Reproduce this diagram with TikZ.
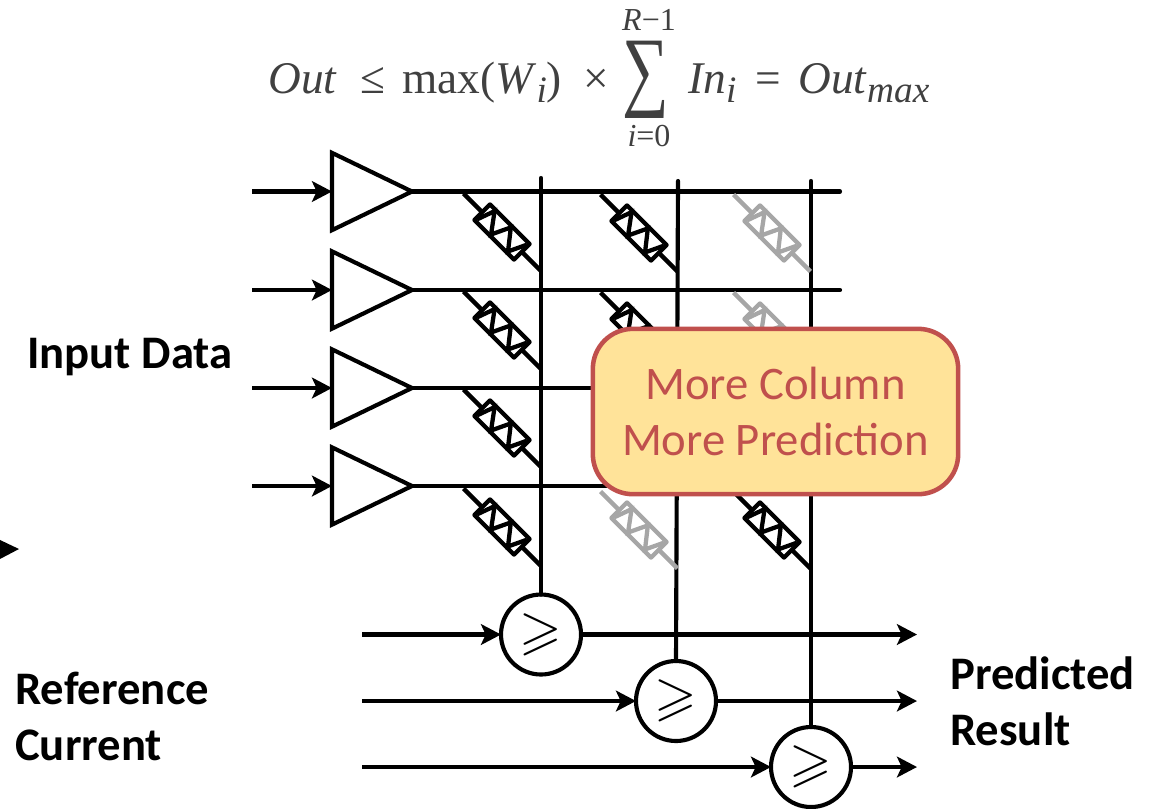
\documentclass[tikz,border=0pt]{standalone}
\usepackage[no-math]{fontspec}
\usepackage{amssymb}
\setmainfont{Carlito}
\newfontfamily\eqfont{Liberation Serif}
\usetikzlibrary{arrows.meta,shapes.geometric}
\definecolor{wiregray}{HTML}{A6A6A6}
\definecolor{boxred}{HTML}{C0504D}
\definecolor{boxfill}{HTML}{FFE399}
\definecolor{eqgray}{HTML}{404040}
\newcommand{\subsc}[1]{\raisebox{-7pt}{\fontsize{28pt}{28pt}\selectfont\itshape #1}}
\newcommand{\cmpsign}{\scalebox{4.1}{$\geqslant$}}
\tikzset{
  wire/.style={line width=3.1pt,black},
  arrowwire/.style={wire,-{Stealth[length=15pt,width=15.5pt,inset=3.5pt]}},
  amp/.style={draw=black,line width=3.1pt,isosceles triangle,isosceles triangle stretches,minimum width=58pt,minimum height=60pt,inner sep=0pt,outer sep=0pt,anchor=lower side},
  cmp/.style={draw=black,fill=white,line width=3.1pt,circle,minimum size=60pt,inner sep=0pt,outer sep=0pt},
  lbl/.style={anchor=base west,inner sep=0pt,font=\bfseries\fontsize{35pt}{35pt}\selectfont},
  eqn/.style={anchor=base west,inner sep=0pt,text=eqgray,font=\eqfont\fontsize{34pt}{34pt}\selectfont},
  eqlim/.style={anchor=base,inner sep=0pt,text=eqgray,font=\eqfont\fontsize{24pt}{24pt}\selectfont},
  callout/.style={draw=boxred,fill=boxfill,line width=3.4pt,rounded corners=30pt,minimum width=274pt,minimum height=124pt,inner sep=0pt,align=center,text=boxred,font=\fontsize{35pt}{42pt}\selectfont},
  pics/rst/.style={code={
    \draw[line width=3.2pt,#1] (-54.4,0)--(-28,0) (28,0)--(54.4,0);
    \draw[line width=3.2pt,#1,fill=white,line join=round] (-28,-11) rectangle (28,11);
    \draw[line width=3.2pt,#1,line join=miter] (-26.5,8.5)--(-20,-9.5)--(-6,9.5)--(3,-9.5)--(18,9.5)--(26.5,-8.5);
  }}
}
\newcommand{\placeR}[3]{\path (#1,#2) pic[rotate=-45] {rst=#3};}
\begin{document}
\begin{tikzpicture}[x=0.75pt,y=-0.75pt]
\useasboundingbox (0,0) rectangle (1151,808);
% equation
\node[eqn] (e1) at (268,93) {\itshape Out};
\node[eqn] (e2) at (360,93) {≤};
\node[eqn] (e3) at (402,93) {max(\textit{W}\subsc{i})};
\node[eqn] (e4) at (583,93) {×};
\node[anchor=center,inner sep=0pt,text=eqgray,font=\eqfont] (e5) at (646,80) {\resizebox*{35pt}{58pt}{∑}};
\node[eqlim] (e6) at (649,30) {\textit{R}−1};
\node[eqlim] (e7) at (649,146) {\textit{i}=0};
\node[eqn] (e8) at (688,93) {\textit{In}\subsc{i}};
\node[eqn] (e9) at (755,93) {=};
\node[eqn] (e10) at (798,93) {\textit{Out}\subsc{max}};
% row drivers
\foreach \n/\y in {1/191.5,2/290,3/388,4/486}{
  \node[amp] (a\n) at (332,\y) {};
  \coordinate (in\n) at (252,\y);
  \coordinate (re\n) at (840,\y);
}
% columns
\node[cmp] (c1) at (541,634.5) {\cmpsign};
\node[cmp] (c2) at (676,701) {\cmpsign};
\node[cmp] (c3) at (811,767) {\cmpsign};
\coordinate (t1) at (541,178);
\coordinate (t2) at (678,181);
\coordinate (t3) at (811,181);
\foreach \n in {1,2,3}{ \draw[wire,line cap=round] (t\n) -- (c\n.north); }
\foreach \n in {1,2,3,4}{
  \draw[arrowwire] (in\n) -- (a\n.lower side);
  \draw[wire,line cap=round] (a\n.apex) -- (re\n);
}
% comparator rails
\foreach \n/\y in {1/634.5,2/701,3/767}{
  \coordinate (rl\n) at (362,\y);
  \coordinate (rr\n) at (917,\y);
  \draw[arrowwire] (rl\n) -- (c\n.west);
  \draw[arrowwire] (c\n.east) -- (rr\n);
}
% resistors
\foreach \x/\y/\c in {
 502/232/black,639/233/black,772/233/wiregray,
 502/330/black,639/331/black,772/331/wiregray,
 502/428/black,
 502/527/black,639/530/wiregray,772/530/black}{
  \placeR{\x}{\y}{\c}
}
% callout
\node[callout] (box) at (775.5,411.5) {More Column\\More Prediction};
% labels
\node[lbl] (ld) at (27,368) {Input Data};
\node[lbl] (lr) at (15,704) {Reference};
\node[lbl] (lc) at (15,760) {Current};
\node[lbl] (lp) at (950,689) {Predicted};
\node[lbl] (lq) at (950,745) {Result};
% stray arrow tip at the left edge
\fill[black] (-1,539.5) -- (19,549) -- (-1,559.5) -- cycle;
\end{tikzpicture}
\end{document}
